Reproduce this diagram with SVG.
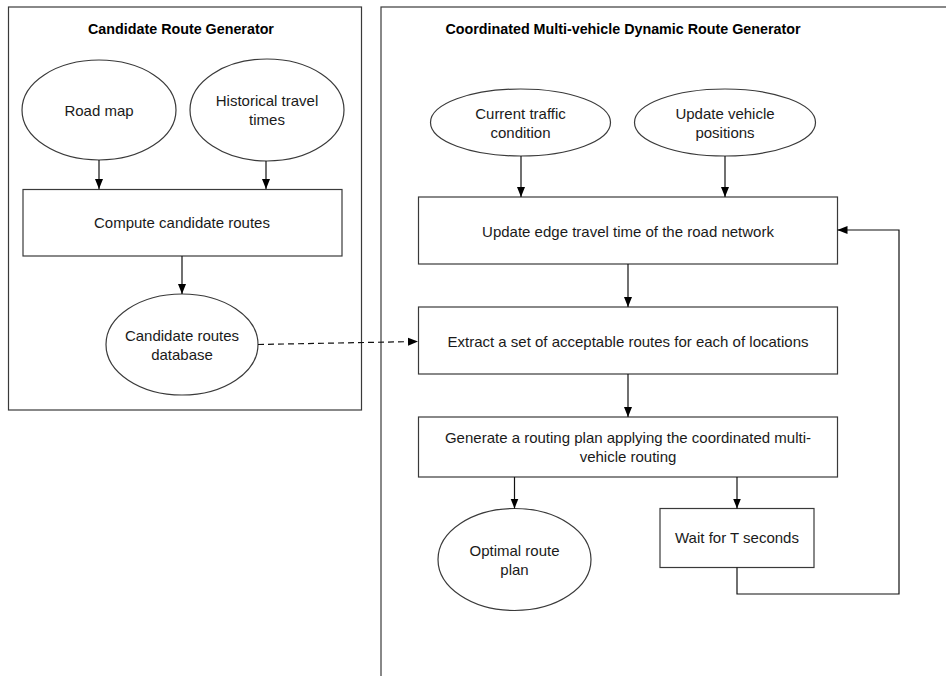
<svg xmlns="http://www.w3.org/2000/svg" width="946" height="676" viewBox="0 0 946 676">
<defs>
<style>
.c{fill:none;stroke:#3a3a3a;stroke-width:1.2}
.n{fill:#fff;stroke:#3a3a3a;stroke-width:1.2}
.t{font-family:"Liberation Sans",Arial,sans-serif;font-size:15px;fill:#1a1a1a;text-anchor:middle}
.h{font-family:"Liberation Sans",Arial,sans-serif;font-size:14.3px;font-weight:bold;fill:#000;text-anchor:middle}
.e{fill:none;stroke:#111;stroke-width:1.2}
</style>
<marker id="a" viewBox="0 0 10 10" refX="10" refY="5" markerWidth="10" markerHeight="10" markerUnits="userSpaceOnUse" orient="auto">
<path d="M0,1 L10,5 L0,9 Z" fill="#000"/>
</marker>
</defs>
<rect width="946" height="676" fill="#fff"/>
<g id="candidate-route-generator">
<rect class="c" x="8.5" y="7" width="353" height="403"/>
<text class="h" x="181" y="34">Candidate Route Generator</text>
</g>
<g id="coordinated-generator">
<rect class="c" x="381" y="7" width="580" height="690"/>
<text class="h" x="623" y="34">Coordinated Multi-vehicle Dynamic Route Generator</text>
</g>
<g id="road-map">
<ellipse class="n" cx="99" cy="110" rx="77" ry="50"/>
<text class="t" x="99" y="115.5">Road map</text>
</g>
<g id="historical-travel-times">
<ellipse class="n" cx="267" cy="110" rx="77" ry="51"/>
<text class="t" x="267" y="105.5">Historical travel</text>
<text class="t" x="267" y="124.5">times</text>
</g>
<g id="compute-candidate-routes">
<rect class="n" x="23" y="189.5" width="319" height="66.5"/>
<text class="t" x="182" y="228">Compute candidate routes</text>
</g>
<g id="candidate-routes-database">
<ellipse class="n" cx="182" cy="344.5" rx="76" ry="50.5"/>
<text class="t" x="182" y="340.5">Candidate routes</text>
<text class="t" x="182" y="359.5">database</text>
</g>
<g id="current-traffic-condition">
<ellipse class="n" cx="520.5" cy="122.5" rx="90" ry="33.5"/>
<text class="t" x="520.5" y="118.5">Current traffic</text>
<text class="t" x="520.5" y="137.5">condition</text>
</g>
<g id="update-vehicle-positions">
<ellipse class="n" cx="725" cy="122.5" rx="90.5" ry="33.5"/>
<text class="t" x="725" y="118.5">Update vehicle</text>
<text class="t" x="725" y="137.5">positions</text>
</g>
<g id="update-edge-travel-time">
<rect class="n" x="418.5" y="197" width="419" height="67"/>
<text class="t" x="628" y="236.5">Update edge travel time of the road network</text>
</g>
<g id="extract-acceptable-routes">
<rect class="n" x="418.5" y="307" width="419" height="67"/>
<text class="t" x="628" y="346.5">Extract a set of acceptable routes for each of locations</text>
</g>
<g id="generate-routing-plan">
<rect class="n" x="418.5" y="417" width="419" height="60"/>
<text class="t" x="628" y="443">Generate a routing plan applying the coordinated multi-</text>
<text class="t" x="628" y="462">vehicle routing</text>
</g>
<g id="optimal-route-plan">
<ellipse class="n" cx="514.5" cy="559.5" rx="76.5" ry="51"/>
<text class="t" x="514.5" y="555.5">Optimal route</text>
<text class="t" x="514.5" y="574.5">plan</text>
</g>
<g id="wait-for-t-seconds">
<rect class="n" x="660" y="508.5" width="154" height="59"/>
<text class="t" x="737" y="542.5">Wait for T seconds</text>
</g>
<g id="connectors">
<line class="e" x1="99" y1="160" x2="99" y2="189" marker-end="url(#a)"/>
<line class="e" x1="266" y1="161" x2="266" y2="189" marker-end="url(#a)"/>
<line class="e" x1="182" y1="256" x2="182" y2="294" marker-end="url(#a)"/>
<line class="e" x1="258" y1="344.5" x2="418" y2="341.5" stroke-dasharray="6,4" marker-end="url(#a)"/>
<line class="e" x1="521" y1="156" x2="521" y2="197" marker-end="url(#a)"/>
<line class="e" x1="725" y1="156" x2="725" y2="197" marker-end="url(#a)"/>
<line class="e" x1="628" y1="264" x2="628" y2="307" marker-end="url(#a)"/>
<line class="e" x1="628" y1="374" x2="628" y2="417" marker-end="url(#a)"/>
<line class="e" x1="514.5" y1="477" x2="514.5" y2="508.5" marker-end="url(#a)"/>
<line class="e" x1="737" y1="477" x2="737" y2="508.5" marker-end="url(#a)"/>
<polyline class="e" points="737,567.5 737,594 899,594 899,230 837.5,230" marker-end="url(#a)"/>
</g>
</svg>
